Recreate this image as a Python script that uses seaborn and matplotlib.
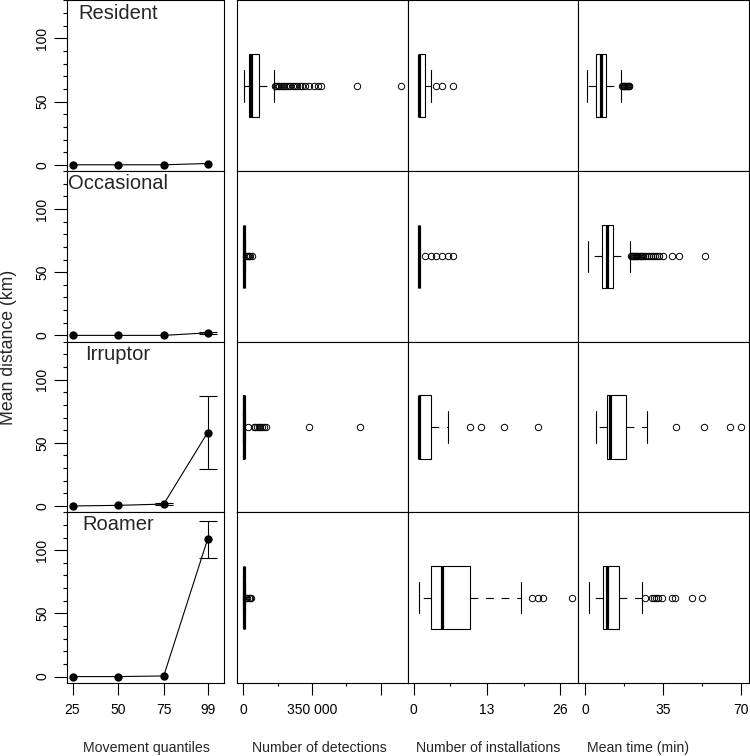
import numpy as np
import matplotlib
matplotlib.use("Agg")
import matplotlib.pyplot as plt
from matplotlib.ticker import MultipleLocator, FixedLocator
import seaborn as sns

sns.set_style("ticks")
plt.rcParams["font.family"] = ["Liberation Sans", "DejaVu Sans"]
plt.rcParams["axes.edgecolor"] = "black"
plt.rcParams["xtick.color"] = "black"
plt.rcParams["ytick.color"] = "black"

groups = ["Resident", "Occasional", "Irruptor", "Roamer"]
quantiles = [25, 50, 75, 99]

# mean distance (km) at each movement quantile, with error
resident_dist = [0, 0, 0, 1]
resident_err = [0, 0, 0, 0]
occasional_dist = [0, 0, 0, 2]
occasional_err = [0, 0, 0, 1]
irruptor_dist = [0, 0.5, 1.5, 58]
irruptor_err = [0, 0, 0.5, 28.7]
roamer_dist = [0, 0, 0.5, 108.5]
roamer_err = [0, 0, 0, 14.6]

# box summaries: [whisker low, Q1, median, Q3, whisker high] + outliers
resident_det_box = [5000, 29000, 40000, 80000, 156000]
resident_det_out = [160000, 168000, 176000, 184000, 192000, 200000, 210000, 220000,
                    230000, 240000, 252000, 264000, 276000, 288000, 300000, 313000,
                    335000, 359000, 381000, 398000, 580000, 806000]
occasional_det_box = [300, 1000, 2000, 4000, 8000]
occasional_det_out = [12000, 18000, 24000, 30000, 36000, 42000]
irruptor_det_box = [200, 800, 1500, 3500, 7500]
irruptor_det_out = [22000, 53000, 62000, 70000, 78000, 87000, 95000, 104000, 116000,
                    337000, 597000]
roamer_det_box = [300, 1000, 2500, 5000, 10000]
roamer_det_out = [14000, 20000, 27000, 33000, 40000]

resident_inst_box = [1, 1, 1, 2, 3]
resident_inst_out = [4, 5, 7]
occasional_inst_box = [1, 1, 1, 1, 1]
occasional_inst_out = [2, 3, 4, 5, 6, 7]
irruptor_inst_box = [1, 1, 1, 3, 6]
irruptor_inst_out = [10, 12, 16, 22]
roamer_inst_box = [1, 3, 5, 10, 19]
roamer_inst_out = [21, 22, 23, 28]

resident_time_box = [0.9, 4.9, 7.3, 9.6, 16.0]
resident_time_out = [16.8, 17.1, 17.4, 17.7, 18.0, 18.4, 18.8, 19.2, 19.6, 19.9]
occasional_time_box = [1.2, 7.5, 9.7, 12.7, 20.2]
occasional_time_out = [20.6, 21.0, 21.5, 22.0, 22.5, 23.0, 23.5, 24.0, 24.5, 25.0, 25.6,
                       26.2, 27.0, 27.8, 28.6, 29.5, 30.5, 31.5, 32.5, 33.4, 35.2, 39.0,
                       42.4, 54.0]
irruptor_time_box = [4.9, 9.7, 11.2, 18.3, 27.7]
irruptor_time_out = [40.9, 53.2, 65.2, 70.0]
roamer_time_box = [1.9, 8.2, 9.7, 15.4, 25.8]
roamer_time_out = [27.0, 30.0, 31.0, 31.8, 32.7, 34.5, 39.0, 40.2, 48.0, 52.7]

dist_rows = [(resident_dist, resident_err), (occasional_dist, occasional_err),
             (irruptor_dist, irruptor_err), (roamer_dist, roamer_err)]
box_rows = [
    [(resident_det_box, resident_det_out), (resident_inst_box, resident_inst_out),
     (resident_time_box, resident_time_out)],
    [(occasional_det_box, occasional_det_out), (occasional_inst_box, occasional_inst_out),
     (occasional_time_box, occasional_time_out)],
    [(irruptor_det_box, irruptor_det_out), (irruptor_inst_box, irruptor_inst_out),
     (irruptor_time_box, irruptor_time_out)],
    [(roamer_det_box, roamer_det_out), (roamer_inst_box, roamer_inst_out),
     (roamer_time_box, roamer_time_out)],
]

box_xlims = [(-32200, 837200), (-1.12, 29.12), (-3.1, 73.6)]
box_major = [[0, 350000, 700000], [0, 13, 26], [0, 35, 70]]
box_labels = [["0", "350 000", ""], ["0", "13", "26"], ["0", "35", "70"]]
box_minor = [[175000, 525000], [6.5, 19.5], [17.5, 52.5]]
titles = ["Movement quantiles", "Number of detections", "Number of installations",
          "Mean time (min)"]
title_x = [146, 319, 488, 638]


def expand(box, out):
    # rebuild a sample whose quartiles / whiskers match the read summary
    lo, q1, med, q3, hi = box
    return np.concatenate([[lo], np.repeat([q1, med, q3], 100), [hi], out])


W, H = 750, 756
fig = plt.figure(figsize=(7.5, 7.56), dpi=100)
fig.patch.set_facecolor("white")

cols = [(66.7, 224.3), (237, 407.5), (407.5, 578), (578, 749)]
row_h = 170.6
top = 0.5


def px_axes(x0, x1, y0, y1):
    return fig.add_axes([x0 / W, 1 - y1 / H, (x1 - x0) / W, (y1 - y0) / H])


for i, name in enumerate(groups):
    y0 = top + i * row_h
    y1 = y0 + row_h
    last = i == len(groups) - 1

    # mean distance panel
    ax = px_axes(cols[0][0], cols[0][1], y0, y1)
    means, errs = dist_rows[i]
    sns.lineplot(x=quantiles, y=means, ax=ax, color="black", linewidth=0.8,
                 marker="o", markersize=6, markeredgewidth=0, errorbar=None)
    mask = np.array(errs) > 0
    if mask.any():
        ax.errorbar(np.array(quantiles)[mask], np.array(means)[mask],
                    yerr=np.array(errs)[mask], fmt="none", ecolor="black",
                    elinewidth=0.8, capsize=6.4, capthick=0.8)
    ax.set_xlim(21.8, 108.2)
    ax.set_ylim(-5, 130)
    ax.text(50, 120, name, ha="center", va="center", fontsize=14.5)
    ax.set_yticks([0, 50, 100])
    ax.set_yticklabels(["0", "50", "100"], rotation=90, va="center")
    ax.yaxis.set_minor_locator(MultipleLocator(10))
    ax.tick_params(axis="y", which="major", length=9.5, width=0.8, pad=3, labelsize=10)
    ax.tick_params(axis="y", which="minor", length=3, width=0.8)
    ax.set_xticks(quantiles)
    ax.set_xticklabels([str(q) for q in quantiles])
    ax.tick_params(axis="x", length=8.5, width=0.8, pad=6, labelsize=10,
                   bottom=last, labelbottom=last)
    ax.set_xlabel("")
    ax.set_ylabel("")
    for s in ax.spines.values():
        s.set_linewidth(0.8)

    # box panels
    for j in range(3):
        ax = px_axes(cols[j + 1][0], cols[j + 1][1], y0, y1)
        box, out = box_rows[i][j]
        sns.boxplot(x=expand(box, out), ax=ax, orient="h", width=0.742,
                    color="white", linecolor="black", linewidth=0.8,
                    fliersize=4.6,
                    whiskerprops=dict(linestyle=(0, (7, 7)), linewidth=0.8),
                    medianprops=dict(linewidth=2.3, color="black"),
                    flierprops=dict(marker="o", markerfacecolor="none",
                                    markeredgecolor="black", markeredgewidth=0.7))
        ax.set_ylim(1, -1)
        ax.set_xlim(*box_xlims[j])
        ax.set_yticks([])
        ax.xaxis.set_major_locator(FixedLocator(box_major[j]))
        ax.set_xticklabels(box_labels[j])
        ax.xaxis.set_minor_locator(FixedLocator(box_minor[j]))
        ax.tick_params(axis="x", which="major", length=8.5, width=0.8, pad=6,
                       labelsize=10, bottom=last, labelbottom=last)
        ax.tick_params(axis="x", which="minor", length=2.5, width=0.8, bottom=last)
        ax.set_xlabel("")
        ax.set_ylabel("")
        for s in ax.spines.values():
            s.set_linewidth(0.8)

for t, x in zip(titles, title_x):
    fig.text(x / W, 1 - 748 / H, t, ha="center", va="center", fontsize=10.2)
fig.text(9 / W, 1 - 347 / H, "Mean distance (km)", ha="center", va="center",
         rotation=90, fontsize=12.7)

fig.savefig("out.png", dpi=100, facecolor="white")
